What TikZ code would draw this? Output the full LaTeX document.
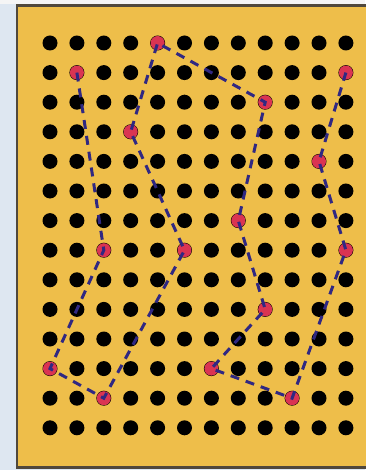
\documentclass[tikz,border=0pt]{standalone}
\usetikzlibrary{calc}
\definecolor{bgblue}{RGB}{222,231,241}
\definecolor{board}{RGB}{238,190,74}
\definecolor{boardedge}{RGB}{80,72,60}
\definecolor{reddot}{RGB}{218,52,82}
\definecolor{pathblue}{RGB}{48,40,130}
\tikzset{
  hole/.style={circle,fill=black,inner sep=0pt,minimum size=15pt},
  city/.style={circle,fill=reddot,inner sep=0pt,minimum size=14pt},
  tour/.style={pathblue,line width=3pt,dash pattern=on 9pt off 7pt,line cap=butt}
}
\begin{document}
\begin{tikzpicture}[x=1pt,y=-1pt]
\useasboundingbox (0,0) rectangle (365,470);
\fill[bgblue] (0,0) rectangle (365,470);
\fill[white!92!gray] (0,0) rectangle (365,4);
\filldraw[fill=board,draw=boardedge,line width=2.5pt] (17,5.5) rectangle (368,467.5);
% grid of holes
\foreach \c in {1,...,12}{
  \foreach \r in {1,...,14}{
    \node[hole] (h\c-\r) at ({50+(\c-1)*26.9},{43+(\r-1)*29.6}) {};
  }
}
% red cities
\foreach \n/\c/\r in {a/2/2,b/3/8,c/1/12,d/3/13,e/6/8,f/4/4,g/5/1,h/9/3,i/8/7,j/9/10,k/7/12,l/10/13,m/12/8,n/11/5,o/12/2}{
  \node[city] (\n) at (h\c-\r) {};
}
\draw[tour] (a.center) -- (b.center) -- (c.center) -- (d.center) -- (e.center) -- (f.center) -- (g.center) -- (h.center) -- (i.center) -- (j.center) -- (k.center) -- (l.center) -- (m.center) -- (n.center) -- (o.center);
\end{tikzpicture}
\end{document}
